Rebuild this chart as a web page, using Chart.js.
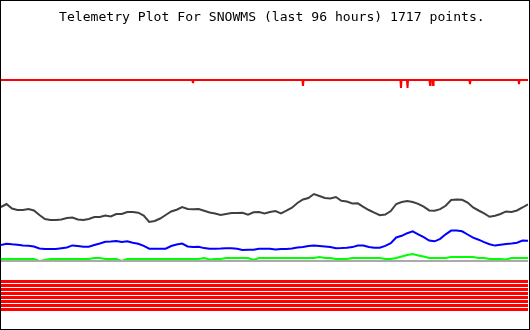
<!DOCTYPE html>
<html>
<head>
<meta charset="utf-8">
<script src="https://cdn.jsdelivr.net/npm/chart.js@4/dist/chart.umd.min.js"></script>
<style>
  html, body { margin: 0; padding: 0; background: #fff; }
  #wrap { position: relative; width: 530px; height: 330px; }
  #plot { position: absolute; left: 0; top: 0; }
  #frame { position: absolute; left: 0; top: 0; width: 530px; height: 330px;
           box-sizing: border-box; border: 1px solid #000; pointer-events: none; }
  #titre { position: absolute; left: 59px; top: 10px; white-space: pre;
           font-family: "DejaVu Sans Mono", monospace; font-size: 13.1px; line-height: 13.1px; color: #000; }
</style>
</head>
<body>
<div id="wrap">
  <canvas id="plot" width="530" height="330"></canvas>
  <div id="titre">Telemetry Plot For SNOWMS (last 96 hours) 1717 points.</div>
  <div id="frame"></div>
</div>
<script>
// Valeurs, une par heure (0 .. 96)
const hours = Array.from({ length: 97 }, (_, i) => i);

const blackSeries = [
  123, 126, 121.5, 120, 120, 121, 119.5, 115, 111, 110,
  110, 110.5, 112, 112.5, 110.5, 110, 111, 113, 113, 114.5,
  113.5, 116, 116, 118, 118, 117.3, 114.5, 108, 109, 111.5,
  115, 118.5, 120.3, 123, 121, 120.7, 121, 119.3, 117.5, 116.5,
  115, 116, 117, 117, 117.3, 115.3, 117.7, 118, 116.5, 118,
  119, 116.7, 119.3, 122.3, 127, 130.5, 132, 136, 134, 132,
  131.5, 133, 129.2, 128.5, 126.5, 126.7, 123.2, 120, 117.3, 114.8,
  115.5, 119, 126, 128, 129, 128, 126.2, 123.3, 119.6, 119.2,
  120.8, 124.2, 130, 130.5, 130.2, 127.5, 122.5, 119.5, 116.7, 113.2,
  114.3, 116, 118.6, 118, 119.5, 122.5, 125.7
];

const blueSeries = [
  85, 86.3, 85.7, 85.3, 84.5, 84.3, 83.5, 81.5, 81, 81,
  81, 81.7, 82.5, 84.6, 84, 83.3, 83.3, 85, 86.5, 88.3,
  88.5, 89, 88, 88.7, 87.2, 86.3, 84.2, 81.3, 81.3, 81.3,
  81.3, 84, 85.4, 86.5, 83.5, 83.1, 83.2, 81.9, 81.3, 81.3,
  81.4, 81.7, 81.7, 81.2, 80.1, 80.3, 80.3, 81.3, 81.3, 81.3,
  80.4, 81, 81, 81.6, 82.5, 83, 84.1, 84.6, 84, 83.4,
  82.9, 81.7, 81.9, 82.3, 82.9, 84.5, 84.4, 83.1, 82.3, 82.3,
  84.1, 86.9, 92.5, 94.2, 96.8, 98.6, 95.7, 92.8, 89.5, 88.7,
  91.2, 95.7, 99.4, 99.5, 98.7, 95.5, 92.3, 90.3, 87.8, 85.7,
  84.4, 85.2, 86.1, 86.5, 87.3, 89.5, 89.2
];

const greenSeries = [
  71, 71, 71, 71, 71, 71, 71, 69, 70, 71,
  71, 71, 71, 71, 71, 71, 71, 72, 72, 71,
  71, 71, 69, 71, 71, 71, 71, 71, 71, 71,
  71, 71, 71, 71, 71, 71, 71, 72, 70.5, 71,
  71, 72, 72, 72, 72, 72, 70, 72, 72, 72,
  72, 72, 72, 72, 72, 72, 72, 72, 73, 72,
  72, 71, 71, 71, 72, 72, 72, 72, 72, 72,
  71, 71, 72, 73.5, 75, 76, 74.5, 73.5, 72, 72,
  72, 72, 73, 73, 73, 73, 73, 72, 72, 71,
  71, 71, 70.5, 72, 72, 72, 72
];

const grayLevel = 69;

// Trace rouge du haut : niveau constant avec quelques creux
const redLevel = 250;
const redDipHours = [34.97, 55.01, 72.86, 74.05, 78.15, 78.7, 85.43, 94.36];
const redDipValues = [247, 244, 242, 242, 245, 245, 246, 246];

// Bandes rouges du bas (8 signaux constants)
const stripeLevels = [48.5, 44.5, 40.5, 36.5, 32.5, 28.5, 24.5, 20.5];

function toPoints(values) {
  return hours.map((h, i) => ({ x: h, y: values[i] }));
}

// Construit la trace rouge avec ses creux
let redPoints = [{ x: 0, y: redLevel }];
redDipHours.forEach((h, i) => {
  redPoints.push({ x: h - 0.1, y: redLevel });
  redPoints.push({ x: h, y: redDipValues[i] });
  redPoints.push({ x: h + 0.1, y: redLevel });
});
redPoints.push({ x: 96, y: redLevel });

let datasets = [
  { data: [{ x: 0, y: grayLevel }, { x: 96, y: grayLevel }], borderColor: '#aaaaaa', borderWidth: 2, order: 0 },
  { data: toPoints(greenSeries), borderColor: '#00ff00', borderWidth: 2, order: 1 },
  { data: toPoints(blueSeries), borderColor: '#0000ff', borderWidth: 2, order: 2 },
  { data: toPoints(blackSeries), borderColor: '#404040', borderWidth: 2, order: 3 },
  { data: redPoints, borderColor: '#ff0000', borderWidth: 2, order: 4 }
];

stripeLevels.forEach(level => {
  datasets.push({
    data: [{ x: 0, y: level }, { x: 96, y: level }],
    borderColor: '#ff0000',
    borderWidth: 3,
    order: 5
  });
});

const ctx = document.getElementById('plot').getContext('2d');
const myChart = new Chart(ctx, {
  type: 'line',
  data: { datasets: datasets },
  options: {
    responsive: false,
    animation: false,
    devicePixelRatio: 1,
    layout: { padding: { left: 1, right: 2, top: 0, bottom: 0 } },
    elements: {
      point: { radius: 0 },
      line: { tension: 0, fill: false, borderCapStyle: 'butt' }
    },
    scales: {
      x: { type: 'linear', min: 0, max: 96, display: false },
      y: { min: 0, max: 330, display: false }
    },
    plugins: {
      legend: { display: false },
      tooltip: { enabled: false },
      title: { display: false }
    }
  }
});
</script>
</body>
</html>
